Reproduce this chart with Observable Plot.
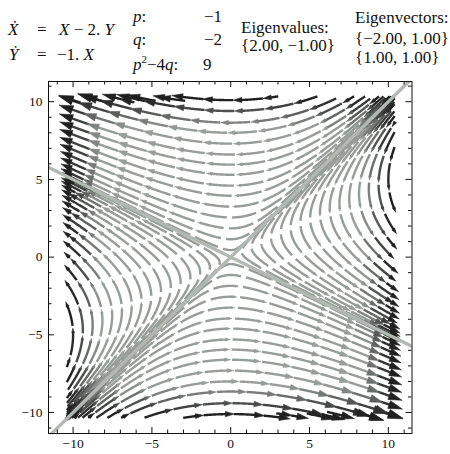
<!DOCTYPE html>
<html>
<head>
<meta charset="utf-8">
<script src="https://cdn.jsdelivr.net/npm/d3@7"></script>
<script src="https://cdn.jsdelivr.net/npm/@observablehq/plot@0.6"></script>
<style>
  body { margin: 0; background: #fff; }
  #chart { width: 450px; height: 454px; }
</style>
</head>
<body>
<div id="chart"></div>
<script>
// Linear system  X' = a·X + b·Y,  Y' = c·X + d·Y
const coefficients = [1, -2, -1, 0];
// p = −trace, q = determinant
const pValue = [-1];
const qValue = [-2];
const eigenvalues = [2, -1];
const eigenvectors = [[-2, 1], [1, 1]];

// Upper/lower stream lines: height where they run level (on the Y axis)
const levelHeights = [0.45, 1.15, 1.85, 2.55, 3.25, 3.95, 4.6, 5.3, 5.95, 6.6, 7.3, 8.0, 8.65, 9.4, 10.1];
// Right/left stream lines: parameter s of the point (2s, s) where they run vertical
const turnPoints = [0.35, 0.66, 0.97, 1.28, 1.59, 1.9, 2.21, 2.52, 2.83, 3.14, 3.45, 3.76, 4.07, 4.38, 4.69, 5.0];
// Short pieces along the top edge (x positions) and along the bottom edge
const topRowX = [-10.3, -8.7, -7.1, -5.5, -3.9];
const bottomRowX = [3.9, 5.5, 7.1, 8.7, 10.3];
const edgeRowY = [10.2, -10.2];

const majorTicks = [-10, -5, 0, 5, 10];
const minorTicks = [-11, -9, -8, -7, -6, -4, -3, -2, -1, 1, 2, 3, 4, 6, 7, 8, 9, 11];

const serif = "'Liberation Serif', 'Times New Roman', serif";
const W = 450, H = 454;
const margin = {top: 81, right: 38.5, bottom: 21, left: 48};
const frameW = W - margin.left - margin.right;
const frameH = H - margin.top - margin.bottom;

const [a11, a12, a21, a22] = coefficients;
const field = (x, y) => [a11 * x + a12 * y, a21 * x + a22 * y];
const box = {x: 10.4, y: 10.35};

// Integrate a unit-speed stream line from a seed, forward (dir = 1) or backward (dir = -1)
function trace(x0, y0, dir, maxLen = 200) {
  const pts = [[x0, y0]];
  const h = 0.03;
  const f = (px, py) => {
    const [u, v] = field(px, py);
    const m = Math.hypot(u, v) || 1;
    return [dir * u / m, dir * v / m];
  };
  let x = x0, y = y0;
  for (let i = 0; i * h < maxLen; i++) {
    const k1 = f(x, y);
    const k2 = f(x + h / 2 * k1[0], y + h / 2 * k1[1]);
    const k3 = f(x + h / 2 * k2[0], y + h / 2 * k2[1]);
    const k4 = f(x + h * k3[0], y + h * k3[1]);
    x += h / 6 * (k1[0] + 2 * k2[0] + 2 * k3[0] + k4[0]);
    y += h / 6 * (k1[1] + 2 * k2[1] + 2 * k3[1] + k4[1]);
    if (Math.abs(x) > box.x || Math.abs(y) > box.y) break;
    pts.push([x, y]);
  }
  return pts;
}
const streamFrom = ([x, y], back = 200, fwd = 200) =>
  trace(x, y, -1, back).reverse().concat(trace(x, y, 1, fwd).slice(1));

const longSeeds = [
  ...levelHeights.map(b => [0, b]),
  ...levelHeights.map(b => [0, -b]),
  ...turnPoints.map(s => [2 * s, s]),
  ...turnPoints.map(s => [-2 * s, -s])
];
const edgeSeeds = [
  ...topRowX.map(x => [x, edgeRowY[0]]),
  ...bottomRowX.map(x => [x, edgeRowY[1]])
];
const streams = [
  ...longSeeds.map(s => streamFrom(s)),
  ...edgeSeeds.map(s => streamFrom(s, 1.0, 0.6))
];

// Darker ink toward the border of the stream region
const shade = d3.interpolateRgb("#979d98", "#202020");
function inkAt(x, y) {
  const e = Math.max(Math.abs(x) / box.x, Math.abs(y) / box.y);
  return shade(Math.max(0, Math.min(1, (e - 0.8) / 0.18)));
}

// Break every stream line into dashes, each closed by an arrowhead scaled by speed
const dashLen = 1.6, gapLen = 0.3, period = dashLen + gapLen;
const dashes = [], heads = [];
let dashId = 0;
streams.forEach((pts, i) => {
  const phase = (i * 0.61) % period;
  let s = 0;
  let current = [];
  for (let k = 0; k < pts.length; k++) {
    if (k > 0) s += Math.hypot(pts[k][0] - pts[k - 1][0], pts[k][1] - pts[k - 1][1]);
    const inDash = ((s + phase) % period) < dashLen;
    if (inDash) current.push(pts[k]);
    if ((!inDash || k === pts.length - 1) && current.length > 1) {
      const [mx, my] = current[Math.floor(current.length / 2)];
      const color = inkAt(mx, my);
      const id = dashId++;
      current.forEach(([x, y]) => dashes.push({x, y, id, color}));
      const [ex, ey] = current[current.length - 1];
      const [u, v] = field(ex, ey);
      const speed = Math.hypot(u, v);
      const al = Math.min(0.95, 0.028 * speed);
      if (al > 0.15) {
        const dx = u / speed, dy = v / speed;
        const aw = 0.3 * al;
        const tip = [ex + dx * al * 0.6, ey + dy * al * 0.6];
        const bx = ex - dx * al * 0.4, by = ey - dy * al * 0.4;
        const c = inkAt(ex, ey);
        [tip, [bx - dy * aw, by + dx * aw], [bx + dy * aw, by - dx * aw], tip]
          .forEach(([x, y]) => heads.push({x, y, id, color: c}));
      }
      current = [];
    } else if (!inDash) {
      current = [];
    }
  }
});

// Eigen-directions drawn across the whole frame
const eigenLines = eigenvectors.flatMap((v, i) =>
  [-30, 30].map(t => ({x: t * v[0], y: t * v[1], id: i}))
);

const minus = s => String(s).replace("-", "\u2212");
const tickFormat = d => minus(d);

const chart = Plot.plot({
  width: W,
  height: H,
  marginTop: margin.top,
  marginRight: margin.right,
  marginBottom: margin.bottom,
  marginLeft: margin.left,
  x: {domain: [-11.56, 11.5]},
  y: {domain: [-11.35, 11.3]},
  style: {fontFamily: serif, fontSize: "14px", background: "white", color: "#111"},
  marks: [
    Plot.line(dashes, {x: "x", y: "y", z: "id", stroke: "color", strokeWidth: 2.4, strokeLinecap: "butt", clip: true}),
    Plot.line(heads, {x: "x", y: "y", z: "id", fill: "color", stroke: "color", strokeWidth: 0.6, clip: true}),
    Plot.line(eigenLines, {x: "x", y: "y", z: "id", stroke: "#b2b9b3", strokeWidth: 3.4, clip: true}),
    Plot.frame({stroke: "#111", strokeWidth: 1}),
    // inward ticks on all four sides
    Plot.tickX(majorTicks, {stroke: "#111", insetTop: frameH - 6}),
    Plot.tickX(minorTicks, {stroke: "#111", insetTop: frameH - 3.5}),
    Plot.tickX(majorTicks, {stroke: "#111", insetBottom: frameH - 6}),
    Plot.tickX(minorTicks, {stroke: "#111", insetBottom: frameH - 3.5}),
    Plot.tickY(majorTicks, {stroke: "#111", insetRight: frameW - 6}),
    Plot.tickY(minorTicks, {stroke: "#111", insetRight: frameW - 3.5}),
    Plot.tickY(majorTicks, {stroke: "#111", insetLeft: frameW - 6}),
    Plot.tickY(minorTicks, {stroke: "#111", insetLeft: frameW - 3.5}),
    Plot.axisX(majorTicks, {anchor: "bottom", tickSize: 0, tickPadding: 5, tickFormat, label: null, fontSize: 13.5, fontFamily: serif}),
    Plot.axisY(majorTicks, {anchor: "left", tickSize: 0, tickPadding: 6, tickFormat, label: null, fontSize: 13.5, fontFamily: serif})
  ]
});
document.getElementById("chart").appendChild(chart);

// Header: the equations, the invariants p and q, eigenvalues and eigenvectors
const header = d3.select(chart).append("g")
  .attr("font-family", serif)
  .attr("font-size", 17)
  .attr("fill", "#111");

function put(x, y, parts, anchor = "start") {
  const t = header.append("text").attr("x", x).attr("y", y).attr("text-anchor", anchor);
  parts.forEach(([s, style]) => {
    const ts = t.append("tspan").text(s);
    if (style === "i") ts.attr("font-style", "italic");
    if (style === "sup") ts.attr("font-size", 11).attr("dy", -7);
    if (style === "after-sup") ts.attr("dy", 7);
  });
}

const coef = c => (Math.abs(c) === 1 ? (c < 0 ? "\u22121. " : "") : minus(c) + ". ");
function rhs(a, b) {
  const parts = [];
  if (a !== 0) parts.push([coef(a), null], ["X", "i"]);
  if (b !== 0) {
    const sign = b < 0 ? " \u2212 " : " + ";
    parts.push([sign + Math.abs(b) + ". ", null], ["Y", "i"]);
  }
  return parts;
}

put(8, 35, [["\u1E8A", "i"]]);
put(37, 35, [["=", null]]);
put(59, 35, rhs(a11, a12));
put(9, 60, [["\u1E8E", "i"]]);
put(37, 60, [["=", null]]);
put(57, 60, rhs(a21, a22));

const p = pValue[0], q = qValue[0];
put(133, 22, [["p", "i"], [":", null]]);
put(222, 22, [[minus(p), null]], "end");
put(133, 45, [["q", "i"], [":", null]]);
put(222, 45, [[minus(q), null]], "end");
put(133, 70, [["p", "i"], ["2", "sup"], ["\u22124", "after-sup"], ["q", "i"], [":", null]]);
put(203, 70, [[minus(p * p - 4 * q), null]]);

const f2 = v => minus(v.toFixed(2));
put(241, 33, [["Eigenvalues:", null]]);
put(241, 51, [[`{${eigenvalues.map(f2).join(", ")}}`, null]]);
put(355, 23, [["Eigenvectors:", null]]);
put(355, 44, [[`{${eigenvectors[0].map(f2).join(", ")}}`, null]]);
put(355, 63, [[`{${eigenvectors[1].map(f2).join(", ")}}`, null]]);
</script>
</body>
</html>
